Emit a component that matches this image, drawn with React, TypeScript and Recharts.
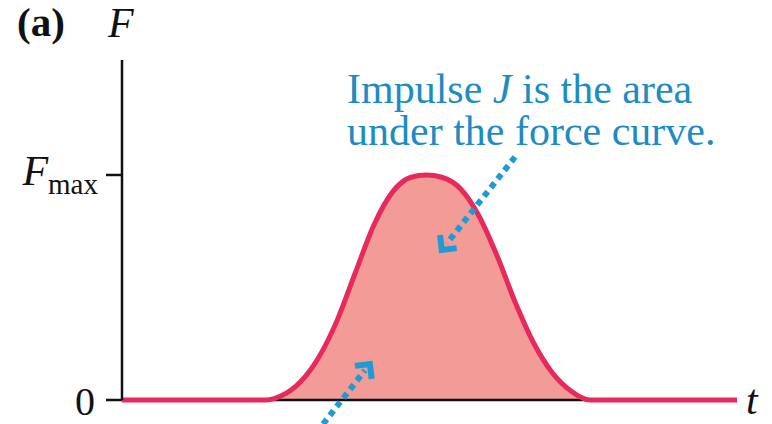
import { ComposedChart, Area, Line, XAxis, YAxis, ReferenceLine } from "recharts";

// time (arbitrary units) and force (fraction of F_max)
const tValues = [0, 2.33, 2.6, 2.9, 3.2, 3.5, 3.8, 4.1, 4.4, 4.7, 4.95, 5.2, 5.5, 5.8, 6.1, 6.4, 6.7, 7.0, 7.3, 7.61, 10];
const forceValues = [0, 0, 0.02, 0.08, 0.19, 0.355, 0.57, 0.78, 0.925, 0.99, 1.0, 0.99, 0.94, 0.82, 0.64, 0.43, 0.25, 0.12, 0.04, 0, 0];

const yTicks = [0, 1];
const yTickLabels = ["0", "max"];

// dotted arrows: [start, end] in data units
const arrowTop = [{ x: 6.39, y: 1.08 }, { x: 5.2, y: 0.667 }];
const arrowBottom = [{ x: 3.27, y: -0.107 }, { x: 4.03, y: 0.16 }];

const data = tValues.map((t, i) => ({ t, f: forceValues[i] }));

// black time axis shows only beneath the pulse; the red line covers it elsewhere
const pulseStart = tValues[1];
const pulseEnd = tValues[tValues.length - 2];

const RED = "#E62A5C";
const FILL = "#F29B97";
const BLUE_TEXT = "#1D8CC2";
const BLUE_DOTS = "#1E9AD6";
const SERIF = "'Liberation Serif', 'DejaVu Serif', serif";

const YTick = ({ x, y, payload }: any) => {
  if (payload.value === 0) {
    return (
      <text x={x - 9} y={y + 15} textAnchor="end" fontFamily={SERIF} fontSize={40} fill="#111">
        {yTickLabels[0]}
      </text>
    );
  }
  return (
    <text x={x - 6} y={y + 10} textAnchor="end" fontFamily={SERIF} fill="#111">
      <tspan fontSize={42} fontStyle="italic">F</tspan>
      <tspan fontSize={29} dy={9}>{yTickLabels[1]}</tspan>
    </text>
  );
};

const DottedArrow = (props: any) => {
  const { x1, y1, x2, y2 } = props;
  const dx = x2 - x1;
  const dy = y2 - y1;
  const len = Math.sqrt(dx * dx + dy * dy);
  const ux = dx / len;
  const uy = dy / len;
  // chevron arms pointing back from the tip
  const arm = 15;
  const a = Math.PI / 4;
  const bx = -ux;
  const by = -uy;
  const p1 = {
    x: x2 + arm * (bx * Math.cos(a) - by * Math.sin(a)),
    y: y2 + arm * (bx * Math.sin(a) + by * Math.cos(a)),
  };
  const p2 = {
    x: x2 + arm * (bx * Math.cos(-a) - by * Math.sin(-a)),
    y: y2 + arm * (bx * Math.sin(-a) + by * Math.cos(-a)),
  };
  return (
    <g>
      <line
        x1={x1}
        y1={y1}
        x2={x2 - ux * 8}
        y2={y2 - uy * 8}
        stroke={BLUE_DOTS}
        strokeWidth={6}
        strokeDasharray="6 5"
      />
      <polyline
        points={`${p1.x},${p1.y} ${x2},${y2} ${p2.x},${p2.y}`}
        fill="none"
        stroke={BLUE_DOTS}
        strokeWidth={6}
        strokeLinejoin="miter"
      />
    </g>
  );
};

export default function App() {
  return (
    <div style={{ position: "absolute", left: 0, top: 0, width: 772, height: 424, background: "#fff" }}>
      <ComposedChart
        width={772}
        height={424}
        data={data}
        margin={{ top: 60, right: 35, bottom: 4, left: 62 }}
      >
        <XAxis
          dataKey="t"
          type="number"
          domain={[0, 10]}
          tick={false}
          tickLine={false}
          height={20}
          axisLine={false}
        />
        <YAxis
          type="number"
          domain={[0, 1.511]}
          ticks={yTicks}
          width={60}
          tickSize={16}
          tickLine={{ stroke: "#111", strokeWidth: 2.5 }}
          axisLine={{ stroke: "#111", strokeWidth: 2.5 }}
          tick={<YTick />}
          interval={0}
        />
        <Area
          dataKey="f"
          type="monotone"
          stroke="none"
          fill={FILL}
          fillOpacity={1}
          isAnimationActive={false}
        />
        <ReferenceLine
          segment={[{ x: pulseStart, y: 0 }, { x: pulseEnd, y: 0 }]}
          stroke="#111"
          strokeWidth={2.5}
          ifOverflow="visible"
        />
        <Line
          dataKey="f"
          type="monotone"
          stroke={RED}
          strokeWidth={5}
          dot={false}
          activeDot={false}
          isAnimationActive={false}
        />
        <ReferenceLine segment={arrowTop} ifOverflow="visible" shape={<DottedArrow />} />
        <ReferenceLine segment={arrowBottom} ifOverflow="visible" shape={<DottedArrow />} />
      </ComposedChart>
      <svg
        width={772}
        height={424}
        style={{ position: "absolute", left: 0, top: 0, pointerEvents: "none" }}
      >
        <text x={17} y={36} fontFamily={SERIF} fontWeight="bold" fontSize={41} fill="#111">
          (a)
        </text>
        <text x={108} y={37} fontFamily={SERIF} fontStyle="italic" fontSize={42} fill="#111">
          F
        </text>
        <text x={746} y={414} fontFamily={SERIF} fontStyle="italic" fontSize={42} fill="#111">
          t
        </text>
        <text x={347} y={103} fontFamily={SERIF} fontSize={42} fill={BLUE_TEXT}>
          Impulse <tspan fontStyle="italic">J</tspan> is the area
        </text>
        <text x={347} y={145} fontFamily={SERIF} fontSize={42} fill={BLUE_TEXT}>
          under the force curve.
        </text>
      </svg>
    </div>
  );
}
